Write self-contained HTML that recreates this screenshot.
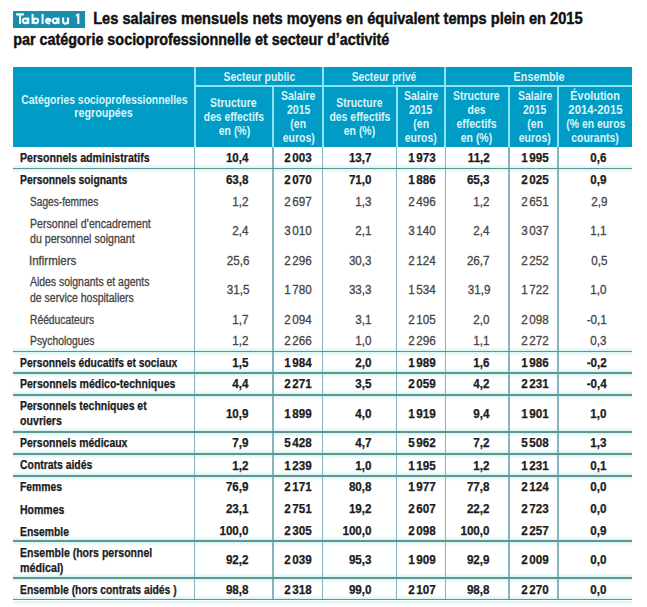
<!DOCTYPE html>
<html><head><meta charset="utf-8"><style>
html,body{margin:0;padding:0;}
body{width:647px;height:607px;position:relative;overflow:hidden;background:#fff;font-family:"Liberation Sans",sans-serif;}
.t{position:absolute;white-space:nowrap;line-height:20px;height:20px;}
.r{position:absolute;}
</style></head><body>
<div class="r" style="left:13px;top:11px;width:72px;height:17px;background:#1a8cac;"></div>
<svg style="position:absolute;left:0;top:0" width="100" height="40" viewBox="0 0 100 40"><g fill="none" stroke="#effcff" stroke-width="2.1" stroke-linecap="butt">
<path d="M16.2 14.4H23.8M20.1 14.4V24.0"/>
<circle cx="25.3" cy="20.8" r="2.3"/><path d="M28.2 17.5V24.0"/>
<path d="M32.6 13.9V24.0"/><circle cx="35.8" cy="20.8" r="2.3"/>
<path d="M42.6 13.9V24.0"/>
<path d="M45.9 20.8H50.6A2.3 2.3 0 1 0 49.9 22.7"/>
<circle cx="55.2" cy="20.8" r="2.3"/><path d="M58.5 17.5V24.0"/>
<path d="M63.1 17.5V21.2A2.4 2.4 0 0 0 67.9 21.2M68.0 17.5V24.0"/>
<path d="M78.3 13.5V24.0M78.6 14.0L76.2 16.0"/>
</g></svg>
<div class="t" style="left:93.00px;top:9.28px;font-size:16.8px;font-weight:700;color:#111;transform-origin:1.00px 50%;transform:scaleX(0.8717);-webkit-text-stroke:0.45px #111;">Les salaires mensuels nets moyens en équivalent temps plein en 2015</div>
<div class="t" style="left:13.00px;top:30.18px;font-size:16.8px;font-weight:700;color:#111;transform-origin:1.00px 50%;transform:scaleX(0.8562);-webkit-text-stroke:0.45px #111;">par catégorie socioprofessionnelle et secteur d’activité</div>
<div class="r" style="left:13px;top:66.5px;width:619.4px;height:80.5px;background:#009cc5;"></div>
<div class="r" style="left:193.6px;top:66.5px;width:2px;height:80.5px;background:#8ae4f5;"></div>
<div class="r" style="left:321.5px;top:66.5px;width:2px;height:80.5px;background:#8ae4f5;"></div>
<div class="r" style="left:444.4px;top:66.5px;width:2px;height:80.5px;background:#8ae4f5;"></div>
<div class="r" style="left:272.1px;top:85px;width:2px;height:62px;background:#8ae4f5;"></div>
<div class="r" style="left:395.5px;top:85px;width:2px;height:62px;background:#8ae4f5;"></div>
<div class="r" style="left:507.8px;top:85px;width:2px;height:62px;background:#8ae4f5;"></div>
<div class="r" style="left:557.4px;top:85px;width:2px;height:62px;background:#8ae4f5;"></div>
<div class="r" style="left:194.6px;top:84.6px;width:437.79999999999995px;height:2px;background:#8ae4f5;"></div>
<div class="t" style="left:5.95px;top:89.54px;font-size:12.3px;font-weight:700;color:#daf4fa;transform-origin:98.50px 50%;transform:scaleX(0.8452);-webkit-text-stroke:0.0px #daf4fa;">Catégories socioprofessionnelles</div>
<div class="t" style="left:70.00px;top:103.04px;font-size:12.3px;font-weight:700;color:#daf4fa;transform-origin:34.00px 50%;transform:scaleX(0.8727);-webkit-text-stroke:0.0px #daf4fa;">regroupées</div>
<div class="t" style="left:216.50px;top:66.74px;font-size:12.3px;font-weight:700;color:#daf4fa;transform-origin:42.50px 50%;transform:scaleX(0.8447);-webkit-text-stroke:0.0px #daf4fa;">Secteur public</div>
<div class="t" style="left:345.00px;top:66.74px;font-size:12.3px;font-weight:700;color:#daf4fa;transform-origin:39.00px 50%;transform:scaleX(0.8282);-webkit-text-stroke:0.0px #daf4fa;">Secteur privé</div>
<div class="t" style="left:509.75px;top:66.54px;font-size:12.3px;font-weight:700;color:#daf4fa;transform-origin:29.50px 50%;transform:scaleX(0.8789);-webkit-text-stroke:0.0px #daf4fa;">Ensemble</div>
<div class="t" style="left:205.95px;top:93.34px;font-size:12.3px;font-weight:700;color:#daf4fa;transform-origin:27.50px 50%;transform:scaleX(0.8527);-webkit-text-stroke:0.0px #daf4fa;">Structure</div>
<div class="t" style="left:198.15px;top:106.94px;font-size:12.3px;font-weight:700;color:#daf4fa;transform-origin:36.00px 50%;transform:scaleX(0.8375);-webkit-text-stroke:0.0px #daf4fa;">des effectifs</div>
<div class="t" style="left:215.50px;top:120.54px;font-size:12.3px;font-weight:700;color:#daf4fa;transform-origin:18.50px 50%;transform:scaleX(0.8500);-webkit-text-stroke:0.0px #daf4fa;">en (%)</div>
<div class="t" style="left:278.00px;top:86.13px;font-size:12.3px;font-weight:700;color:#daf4fa;transform-origin:20.00px 50%;transform:scaleX(0.8500);-webkit-text-stroke:0.0px #daf4fa;">Salaire</div>
<div class="t" style="left:284.50px;top:100.00px;font-size:12.3px;font-weight:700;color:#daf4fa;transform-origin:13.50px 50%;transform:scaleX(0.8500);-webkit-text-stroke:0.0px #daf4fa;">2015</div>
<div class="t" style="left:289.00px;top:113.87px;font-size:12.3px;font-weight:700;color:#daf4fa;transform-origin:9.00px 50%;transform:scaleX(0.8500);-webkit-text-stroke:0.0px #daf4fa;">(en</div>
<div class="t" style="left:279.50px;top:127.74px;font-size:12.3px;font-weight:700;color:#daf4fa;transform-origin:18.50px 50%;transform:scaleX(0.8500);-webkit-text-stroke:0.0px #daf4fa;">euros)</div>
<div class="t" style="left:332.15px;top:93.34px;font-size:12.3px;font-weight:700;color:#daf4fa;transform-origin:27.50px 50%;transform:scaleX(0.8455);-webkit-text-stroke:0.0px #daf4fa;">Structure</div>
<div class="t" style="left:323.70px;top:106.94px;font-size:12.3px;font-weight:700;color:#daf4fa;transform-origin:36.00px 50%;transform:scaleX(0.8500);-webkit-text-stroke:0.0px #daf4fa;">des effectifs</div>
<div class="t" style="left:341.20px;top:120.54px;font-size:12.3px;font-weight:700;color:#daf4fa;transform-origin:18.50px 50%;transform:scaleX(0.8500);-webkit-text-stroke:0.0px #daf4fa;">en (%)</div>
<div class="t" style="left:400.90px;top:86.13px;font-size:12.3px;font-weight:700;color:#daf4fa;transform-origin:20.00px 50%;transform:scaleX(0.8500);-webkit-text-stroke:0.0px #daf4fa;">Salaire</div>
<div class="t" style="left:407.40px;top:100.00px;font-size:12.3px;font-weight:700;color:#daf4fa;transform-origin:13.50px 50%;transform:scaleX(0.8500);-webkit-text-stroke:0.0px #daf4fa;">2015</div>
<div class="t" style="left:411.90px;top:113.87px;font-size:12.3px;font-weight:700;color:#daf4fa;transform-origin:9.00px 50%;transform:scaleX(0.8500);-webkit-text-stroke:0.0px #daf4fa;">(en</div>
<div class="t" style="left:402.40px;top:127.74px;font-size:12.3px;font-weight:700;color:#daf4fa;transform-origin:18.50px 50%;transform:scaleX(0.8500);-webkit-text-stroke:0.0px #daf4fa;">euros)</div>
<div class="t" style="left:449.30px;top:86.13px;font-size:12.3px;font-weight:700;color:#daf4fa;transform-origin:27.50px 50%;transform:scaleX(0.8545);-webkit-text-stroke:0.0px #daf4fa;">Structure</div>
<div class="t" style="left:466.30px;top:100.00px;font-size:12.3px;font-weight:700;color:#daf4fa;transform-origin:10.50px 50%;transform:scaleX(0.8500);-webkit-text-stroke:0.0px #daf4fa;">des</div>
<div class="t" style="left:453.30px;top:113.87px;font-size:12.3px;font-weight:700;color:#daf4fa;transform-origin:23.50px 50%;transform:scaleX(0.8500);-webkit-text-stroke:0.0px #daf4fa;">effectifs</div>
<div class="t" style="left:458.30px;top:127.74px;font-size:12.3px;font-weight:700;color:#daf4fa;transform-origin:18.50px 50%;transform:scaleX(0.8500);-webkit-text-stroke:0.0px #daf4fa;">en (%)</div>
<div class="t" style="left:514.50px;top:86.13px;font-size:12.3px;font-weight:700;color:#daf4fa;transform-origin:20.00px 50%;transform:scaleX(0.8500);-webkit-text-stroke:0.0px #daf4fa;">Salaire</div>
<div class="t" style="left:521.00px;top:100.00px;font-size:12.3px;font-weight:700;color:#daf4fa;transform-origin:13.50px 50%;transform:scaleX(0.8500);-webkit-text-stroke:0.0px #daf4fa;">2015</div>
<div class="t" style="left:525.50px;top:113.87px;font-size:12.3px;font-weight:700;color:#daf4fa;transform-origin:9.00px 50%;transform:scaleX(0.8500);-webkit-text-stroke:0.0px #daf4fa;">(en</div>
<div class="t" style="left:516.00px;top:127.74px;font-size:12.3px;font-weight:700;color:#daf4fa;transform-origin:18.50px 50%;transform:scaleX(0.8500);-webkit-text-stroke:0.0px #daf4fa;">euros)</div>
<div class="t" style="left:566.55px;top:86.13px;font-size:12.3px;font-weight:700;color:#daf4fa;transform-origin:28.50px 50%;transform:scaleX(0.8818);-webkit-text-stroke:0.0px #daf4fa;">Évolution</div>
<div class="t" style="left:565.55px;top:100.00px;font-size:12.3px;font-weight:700;color:#daf4fa;transform-origin:29.50px 50%;transform:scaleX(0.9203);-webkit-text-stroke:0.0px #daf4fa;">2014-2015</div>
<div class="t" style="left:560.55px;top:113.87px;font-size:12.3px;font-weight:700;color:#daf4fa;transform-origin:34.50px 50%;transform:scaleX(0.8478);-webkit-text-stroke:0.0px #daf4fa;">(% en euros</div>
<div class="t" style="left:567.00px;top:127.74px;font-size:12.3px;font-weight:700;color:#daf4fa;transform-origin:28.00px 50%;transform:scaleX(0.8500);-webkit-text-stroke:0.0px #daf4fa;">courants)</div>
<div class="r" style="left:13px;top:163.6px;width:619.4px;height:4px;background:linear-gradient(to bottom, rgba(220,246,246,0), rgba(215,244,244,1));"></div>
<div class="r" style="left:13px;top:169.4px;width:619.4px;height:4px;background:linear-gradient(to top, rgba(220,246,246,0), rgba(215,244,244,1));"></div>
<div class="r" style="left:13px;top:346.6px;width:619.4px;height:4px;background:linear-gradient(to bottom, rgba(220,246,246,0), rgba(215,244,244,1));"></div>
<div class="r" style="left:13px;top:352.4px;width:619.4px;height:4px;background:linear-gradient(to top, rgba(220,246,246,0), rgba(215,244,244,1));"></div>
<div class="r" style="left:13px;top:368.40000000000003px;width:619.4px;height:4px;background:linear-gradient(to bottom, rgba(220,246,246,0), rgba(215,244,244,1));"></div>
<div class="r" style="left:13px;top:374.2px;width:619.4px;height:4px;background:linear-gradient(to top, rgba(220,246,246,0), rgba(215,244,244,1));"></div>
<div class="r" style="left:13px;top:390.40000000000003px;width:619.4px;height:4px;background:linear-gradient(to bottom, rgba(220,246,246,0), rgba(215,244,244,1));"></div>
<div class="r" style="left:13px;top:396.2px;width:619.4px;height:4px;background:linear-gradient(to top, rgba(220,246,246,0), rgba(215,244,244,1));"></div>
<div class="r" style="left:13px;top:426.90000000000003px;width:619.4px;height:4px;background:linear-gradient(to bottom, rgba(220,246,246,0), rgba(215,244,244,1));"></div>
<div class="r" style="left:13px;top:432.7px;width:619.4px;height:4px;background:linear-gradient(to top, rgba(220,246,246,0), rgba(215,244,244,1));"></div>
<div class="r" style="left:13px;top:448.90000000000003px;width:619.4px;height:4px;background:linear-gradient(to bottom, rgba(220,246,246,0), rgba(215,244,244,1));"></div>
<div class="r" style="left:13px;top:454.7px;width:619.4px;height:4px;background:linear-gradient(to top, rgba(220,246,246,0), rgba(215,244,244,1));"></div>
<div class="r" style="left:13px;top:471.1px;width:619.4px;height:4px;background:linear-gradient(to bottom, rgba(220,246,246,0), rgba(215,244,244,1));"></div>
<div class="r" style="left:13px;top:476.9px;width:619.4px;height:4px;background:linear-gradient(to top, rgba(220,246,246,0), rgba(215,244,244,1));"></div>
<div class="r" style="left:13px;top:535.8000000000001px;width:619.4px;height:4px;background:linear-gradient(to bottom, rgba(220,246,246,0), rgba(215,244,244,1));"></div>
<div class="r" style="left:13px;top:541.6px;width:619.4px;height:4px;background:linear-gradient(to top, rgba(220,246,246,0), rgba(215,244,244,1));"></div>
<div class="r" style="left:13px;top:573.3000000000001px;width:619.4px;height:4px;background:linear-gradient(to bottom, rgba(220,246,246,0), rgba(215,244,244,1));"></div>
<div class="r" style="left:13px;top:579.1px;width:619.4px;height:4px;background:linear-gradient(to top, rgba(220,246,246,0), rgba(215,244,244,1));"></div>
<div class="r" style="left:13px;top:594.7px;width:619.4px;height:4px;background:linear-gradient(to bottom, rgba(220,246,246,0), rgba(215,244,244,1));"></div>
<div class="r" style="left:13px;top:600.5px;width:619.4px;height:4px;background:linear-gradient(to top, rgba(220,246,246,0), rgba(215,244,244,1));"></div>
<div class="r" style="left:193.7px;top:147px;width:1.8px;height:453.20000000000005px;background:#86b4bc;"></div>
<div class="r" style="left:272.20000000000005px;top:147px;width:1.8px;height:453.20000000000005px;background:#86b4bc;"></div>
<div class="r" style="left:321.6px;top:147px;width:1.8px;height:453.20000000000005px;background:#86b4bc;"></div>
<div class="r" style="left:395.6px;top:147px;width:1.8px;height:453.20000000000005px;background:#86b4bc;"></div>
<div class="r" style="left:444.70000000000005px;top:147px;width:1.8px;height:453.20000000000005px;background:#86b4bc;"></div>
<div class="r" style="left:507.90000000000003px;top:147px;width:1.8px;height:453.20000000000005px;background:#86b4bc;"></div>
<div class="r" style="left:557.3000000000001px;top:147px;width:1.8px;height:453.20000000000005px;background:#86b4bc;"></div>
<div class="r" style="left:13px;top:167.6px;width:619.4px;height:1.8px;background:#629490;"></div>
<div class="r" style="left:13px;top:350.6px;width:619.4px;height:1.8px;background:#629490;"></div>
<div class="r" style="left:13px;top:372.40000000000003px;width:619.4px;height:1.8px;background:#629490;"></div>
<div class="r" style="left:13px;top:394.40000000000003px;width:619.4px;height:1.8px;background:#629490;"></div>
<div class="r" style="left:13px;top:430.90000000000003px;width:619.4px;height:1.8px;background:#629490;"></div>
<div class="r" style="left:13px;top:452.90000000000003px;width:619.4px;height:1.8px;background:#629490;"></div>
<div class="r" style="left:13px;top:475.1px;width:619.4px;height:1.8px;background:#629490;"></div>
<div class="r" style="left:13px;top:539.8000000000001px;width:619.4px;height:1.8px;background:#629490;"></div>
<div class="r" style="left:13px;top:577.3000000000001px;width:619.4px;height:1.8px;background:#629490;"></div>
<div class="r" style="left:13px;top:598.7px;width:619.4px;height:1.8px;background:#629490;"></div>
<div class="t" style="left:20.20px;top:148.04px;font-size:12px;font-weight:700;color:#1c1c1c;transform-origin:0.00px 50%;transform:scaleX(0.8844);-webkit-text-stroke:0.25px #1c1c1c;">Personnels administratifs</div>
<div class="t" style="left:223.50px;top:147.93px;font-size:12.6px;font-weight:700;color:#1c1c1c;transform-origin:25.00px 50%;transform:scaleX(0.9250);-webkit-text-stroke:0.25px #1c1c1c;">10,4</div>
<div class="t" style="left:283.00px;top:147.93px;font-size:12.6px;font-weight:700;color:#1c1c1c;transform-origin:15.00px 50%;transform:scaleX(0.9250);-webkit-text-stroke:0.25px #1c1c1c;">2<i style="display:inline-block;width:1.7px"></i>003</div>
<div class="t" style="left:347.20px;top:147.93px;font-size:12.6px;font-weight:700;color:#1c1c1c;transform-origin:25.00px 50%;transform:scaleX(0.9250);-webkit-text-stroke:0.25px #1c1c1c;">13,7</div>
<div class="t" style="left:406.50px;top:147.93px;font-size:12.6px;font-weight:700;color:#1c1c1c;transform-origin:15.00px 50%;transform:scaleX(0.9250);-webkit-text-stroke:0.25px #1c1c1c;">1<i style="display:inline-block;width:1.7px"></i>973</div>
<div class="t" style="left:465.50px;top:147.93px;font-size:12.6px;font-weight:700;color:#1c1c1c;transform-origin:24.00px 50%;transform:scaleX(0.9250);-webkit-text-stroke:0.25px #1c1c1c;">11,2</div>
<div class="t" style="left:519.80px;top:147.93px;font-size:12.6px;font-weight:700;color:#1c1c1c;transform-origin:15.00px 50%;transform:scaleX(0.9250);-webkit-text-stroke:0.25px #1c1c1c;">1<i style="display:inline-block;width:1.7px"></i>995</div>
<div class="t" style="left:589.00px;top:147.93px;font-size:12.6px;font-weight:700;color:#1c1c1c;transform-origin:18.00px 50%;transform:scaleX(0.9250);-webkit-text-stroke:0.25px #1c1c1c;">0,6</div>
<div class="t" style="left:20.20px;top:170.34px;font-size:12px;font-weight:700;color:#1c1c1c;transform-origin:0.00px 50%;transform:scaleX(0.8608);-webkit-text-stroke:0.25px #1c1c1c;">Personnels soignants</div>
<div class="t" style="left:223.50px;top:170.23px;font-size:12.6px;font-weight:700;color:#1c1c1c;transform-origin:25.00px 50%;transform:scaleX(0.9250);-webkit-text-stroke:0.25px #1c1c1c;">63,8</div>
<div class="t" style="left:283.00px;top:170.23px;font-size:12.6px;font-weight:700;color:#1c1c1c;transform-origin:15.00px 50%;transform:scaleX(0.9250);-webkit-text-stroke:0.25px #1c1c1c;">2<i style="display:inline-block;width:1.7px"></i>070</div>
<div class="t" style="left:347.20px;top:170.23px;font-size:12.6px;font-weight:700;color:#1c1c1c;transform-origin:25.00px 50%;transform:scaleX(0.9250);-webkit-text-stroke:0.25px #1c1c1c;">71,0</div>
<div class="t" style="left:406.50px;top:170.23px;font-size:12.6px;font-weight:700;color:#1c1c1c;transform-origin:15.00px 50%;transform:scaleX(0.9250);-webkit-text-stroke:0.25px #1c1c1c;">1<i style="display:inline-block;width:1.7px"></i>886</div>
<div class="t" style="left:464.50px;top:170.23px;font-size:12.6px;font-weight:700;color:#1c1c1c;transform-origin:25.00px 50%;transform:scaleX(0.9250);-webkit-text-stroke:0.25px #1c1c1c;">65,3</div>
<div class="t" style="left:519.80px;top:170.23px;font-size:12.6px;font-weight:700;color:#1c1c1c;transform-origin:15.00px 50%;transform:scaleX(0.9250);-webkit-text-stroke:0.25px #1c1c1c;">2<i style="display:inline-block;width:1.7px"></i>025</div>
<div class="t" style="left:589.00px;top:170.23px;font-size:12.6px;font-weight:700;color:#1c1c1c;transform-origin:18.00px 50%;transform:scaleX(0.9250);-webkit-text-stroke:0.25px #1c1c1c;">0,9</div>
<div class="t" style="left:30.00px;top:191.74px;font-size:12px;font-weight:400;color:#454545;transform-origin:0.00px 50%;transform:scaleX(0.8457);-webkit-text-stroke:0.3px #454545;">Sages-femmes</div>
<div class="t" style="left:230.50px;top:191.63px;font-size:12.6px;font-weight:400;color:#454545;transform-origin:18.00px 50%;transform:scaleX(0.9250);-webkit-text-stroke:0.3px #454545;">1,2</div>
<div class="t" style="left:283.00px;top:191.63px;font-size:12.6px;font-weight:400;color:#454545;transform-origin:15.00px 50%;transform:scaleX(0.9250);-webkit-text-stroke:0.3px #454545;">2<i style="display:inline-block;width:1.7px"></i>697</div>
<div class="t" style="left:354.20px;top:191.63px;font-size:12.6px;font-weight:400;color:#454545;transform-origin:18.00px 50%;transform:scaleX(0.9250);-webkit-text-stroke:0.3px #454545;">1,3</div>
<div class="t" style="left:406.50px;top:191.63px;font-size:12.6px;font-weight:400;color:#454545;transform-origin:15.00px 50%;transform:scaleX(0.9250);-webkit-text-stroke:0.3px #454545;">2<i style="display:inline-block;width:1.7px"></i>496</div>
<div class="t" style="left:471.50px;top:191.63px;font-size:12.6px;font-weight:400;color:#454545;transform-origin:18.00px 50%;transform:scaleX(0.9250);-webkit-text-stroke:0.3px #454545;">1,2</div>
<div class="t" style="left:519.80px;top:191.63px;font-size:12.6px;font-weight:400;color:#454545;transform-origin:15.00px 50%;transform:scaleX(0.9250);-webkit-text-stroke:0.3px #454545;">2<i style="display:inline-block;width:1.7px"></i>651</div>
<div class="t" style="left:590.00px;top:191.63px;font-size:12.6px;font-weight:400;color:#454545;transform-origin:17.00px 50%;transform:scaleX(0.9250);-webkit-text-stroke:0.3px #454545;">2,9</div>
<div class="t" style="left:30.00px;top:213.84px;font-size:12px;font-weight:400;color:#454545;transform-origin:0.00px 50%;transform:scaleX(0.8832);-webkit-text-stroke:0.3px #454545;">Personnel d’encadrement</div>
<div class="t" style="left:30.00px;top:229.04px;font-size:12px;font-weight:400;color:#454545;transform-origin:0.00px 50%;transform:scaleX(0.8857);-webkit-text-stroke:0.3px #454545;">du personnel soignant</div>
<div class="t" style="left:230.50px;top:221.43px;font-size:12.6px;font-weight:400;color:#454545;transform-origin:18.00px 50%;transform:scaleX(0.9250);-webkit-text-stroke:0.3px #454545;">2,4</div>
<div class="t" style="left:283.00px;top:221.43px;font-size:12.6px;font-weight:400;color:#454545;transform-origin:15.00px 50%;transform:scaleX(0.9250);-webkit-text-stroke:0.3px #454545;">3<i style="display:inline-block;width:1.7px"></i>010</div>
<div class="t" style="left:354.20px;top:221.43px;font-size:12.6px;font-weight:400;color:#454545;transform-origin:18.00px 50%;transform:scaleX(0.9250);-webkit-text-stroke:0.3px #454545;">2,1</div>
<div class="t" style="left:406.50px;top:221.43px;font-size:12.6px;font-weight:400;color:#454545;transform-origin:15.00px 50%;transform:scaleX(0.9250);-webkit-text-stroke:0.3px #454545;">3<i style="display:inline-block;width:1.7px"></i>140</div>
<div class="t" style="left:471.50px;top:221.43px;font-size:12.6px;font-weight:400;color:#454545;transform-origin:18.00px 50%;transform:scaleX(0.9250);-webkit-text-stroke:0.3px #454545;">2,4</div>
<div class="t" style="left:519.80px;top:221.43px;font-size:12.6px;font-weight:400;color:#454545;transform-origin:15.00px 50%;transform:scaleX(0.9250);-webkit-text-stroke:0.3px #454545;">3<i style="display:inline-block;width:1.7px"></i>037</div>
<div class="t" style="left:589.00px;top:221.43px;font-size:12.6px;font-weight:400;color:#454545;transform-origin:18.00px 50%;transform:scaleX(0.9250);-webkit-text-stroke:0.3px #454545;">1,1</div>
<div class="t" style="left:29.00px;top:251.24px;font-size:12px;font-weight:400;color:#454545;transform-origin:1.00px 50%;transform:scaleX(0.9563);-webkit-text-stroke:0.3px #454545;">Infirmiers</div>
<div class="t" style="left:224.50px;top:251.33px;font-size:12.6px;font-weight:400;color:#454545;transform-origin:24.00px 50%;transform:scaleX(0.9250);-webkit-text-stroke:0.3px #454545;">25,6</div>
<div class="t" style="left:283.00px;top:251.33px;font-size:12.6px;font-weight:400;color:#454545;transform-origin:15.00px 50%;transform:scaleX(0.9250);-webkit-text-stroke:0.3px #454545;">2<i style="display:inline-block;width:1.7px"></i>296</div>
<div class="t" style="left:347.20px;top:251.33px;font-size:12.6px;font-weight:400;color:#454545;transform-origin:25.00px 50%;transform:scaleX(0.9250);-webkit-text-stroke:0.3px #454545;">30,3</div>
<div class="t" style="left:406.50px;top:251.33px;font-size:12.6px;font-weight:400;color:#454545;transform-origin:15.00px 50%;transform:scaleX(0.9250);-webkit-text-stroke:0.3px #454545;">2<i style="display:inline-block;width:1.7px"></i>124</div>
<div class="t" style="left:464.50px;top:251.33px;font-size:12.6px;font-weight:400;color:#454545;transform-origin:25.00px 50%;transform:scaleX(0.9250);-webkit-text-stroke:0.3px #454545;">26,7</div>
<div class="t" style="left:519.80px;top:251.33px;font-size:12.6px;font-weight:400;color:#454545;transform-origin:15.00px 50%;transform:scaleX(0.9250);-webkit-text-stroke:0.3px #454545;">2<i style="display:inline-block;width:1.7px"></i>252</div>
<div class="t" style="left:590.00px;top:251.33px;font-size:12.6px;font-weight:400;color:#454545;transform-origin:17.00px 50%;transform:scaleX(0.9250);-webkit-text-stroke:0.3px #454545;">0,5</div>
<div class="t" style="left:30.00px;top:271.84px;font-size:12px;font-weight:400;color:#454545;transform-origin:0.00px 50%;transform:scaleX(0.8688);-webkit-text-stroke:0.3px #454545;">Aides soignants et agents</div>
<div class="t" style="left:30.00px;top:287.54px;font-size:12px;font-weight:400;color:#454545;transform-origin:0.00px 50%;transform:scaleX(0.8748);-webkit-text-stroke:0.3px #454545;">de service hospitaliers</div>
<div class="t" style="left:224.50px;top:279.83px;font-size:12.6px;font-weight:400;color:#454545;transform-origin:24.00px 50%;transform:scaleX(0.9250);-webkit-text-stroke:0.3px #454545;">31,5</div>
<div class="t" style="left:283.00px;top:279.83px;font-size:12.6px;font-weight:400;color:#454545;transform-origin:15.00px 50%;transform:scaleX(0.9250);-webkit-text-stroke:0.3px #454545;">1<i style="display:inline-block;width:1.7px"></i>780</div>
<div class="t" style="left:347.20px;top:279.83px;font-size:12.6px;font-weight:400;color:#454545;transform-origin:25.00px 50%;transform:scaleX(0.9250);-webkit-text-stroke:0.3px #454545;">33,3</div>
<div class="t" style="left:406.50px;top:279.83px;font-size:12.6px;font-weight:400;color:#454545;transform-origin:15.00px 50%;transform:scaleX(0.9250);-webkit-text-stroke:0.3px #454545;">1<i style="display:inline-block;width:1.7px"></i>534</div>
<div class="t" style="left:465.50px;top:279.83px;font-size:12.6px;font-weight:400;color:#454545;transform-origin:24.00px 50%;transform:scaleX(0.9250);-webkit-text-stroke:0.3px #454545;">31,9</div>
<div class="t" style="left:519.80px;top:279.83px;font-size:12.6px;font-weight:400;color:#454545;transform-origin:15.00px 50%;transform:scaleX(0.9250);-webkit-text-stroke:0.3px #454545;">1<i style="display:inline-block;width:1.7px"></i>722</div>
<div class="t" style="left:589.00px;top:279.83px;font-size:12.6px;font-weight:400;color:#454545;transform-origin:18.00px 50%;transform:scaleX(0.9250);-webkit-text-stroke:0.3px #454545;">1,0</div>
<div class="t" style="left:30.00px;top:309.74px;font-size:12px;font-weight:400;color:#454545;transform-origin:0.00px 50%;transform:scaleX(0.8573);-webkit-text-stroke:0.3px #454545;">Rééducateurs</div>
<div class="t" style="left:230.50px;top:309.93px;font-size:12.6px;font-weight:400;color:#454545;transform-origin:18.00px 50%;transform:scaleX(0.9250);-webkit-text-stroke:0.3px #454545;">1,7</div>
<div class="t" style="left:283.00px;top:309.93px;font-size:12.6px;font-weight:400;color:#454545;transform-origin:15.00px 50%;transform:scaleX(0.9250);-webkit-text-stroke:0.3px #454545;">2<i style="display:inline-block;width:1.7px"></i>094</div>
<div class="t" style="left:354.20px;top:309.93px;font-size:12.6px;font-weight:400;color:#454545;transform-origin:18.00px 50%;transform:scaleX(0.9250);-webkit-text-stroke:0.3px #454545;">3,1</div>
<div class="t" style="left:406.50px;top:309.93px;font-size:12.6px;font-weight:400;color:#454545;transform-origin:15.00px 50%;transform:scaleX(0.9250);-webkit-text-stroke:0.3px #454545;">2<i style="display:inline-block;width:1.7px"></i>105</div>
<div class="t" style="left:471.50px;top:309.93px;font-size:12.6px;font-weight:400;color:#454545;transform-origin:18.00px 50%;transform:scaleX(0.9250);-webkit-text-stroke:0.3px #454545;">2,0</div>
<div class="t" style="left:519.80px;top:309.93px;font-size:12.6px;font-weight:400;color:#454545;transform-origin:15.00px 50%;transform:scaleX(0.9250);-webkit-text-stroke:0.3px #454545;">2<i style="display:inline-block;width:1.7px"></i>098</div>
<div class="t" style="left:585.00px;top:309.93px;font-size:12.6px;font-weight:400;color:#454545;transform-origin:22.00px 50%;transform:scaleX(0.9250);-webkit-text-stroke:0.3px #454545;">-0,1</div>
<div class="t" style="left:30.00px;top:330.54px;font-size:12px;font-weight:400;color:#454545;transform-origin:0.00px 50%;transform:scaleX(0.8613);-webkit-text-stroke:0.3px #454545;">Psychologues</div>
<div class="t" style="left:230.50px;top:330.73px;font-size:12.6px;font-weight:400;color:#454545;transform-origin:18.00px 50%;transform:scaleX(0.9250);-webkit-text-stroke:0.3px #454545;">1,2</div>
<div class="t" style="left:283.00px;top:330.73px;font-size:12.6px;font-weight:400;color:#454545;transform-origin:15.00px 50%;transform:scaleX(0.9250);-webkit-text-stroke:0.3px #454545;">2<i style="display:inline-block;width:1.7px"></i>266</div>
<div class="t" style="left:354.20px;top:330.73px;font-size:12.6px;font-weight:400;color:#454545;transform-origin:18.00px 50%;transform:scaleX(0.9250);-webkit-text-stroke:0.3px #454545;">1,0</div>
<div class="t" style="left:406.50px;top:330.73px;font-size:12.6px;font-weight:400;color:#454545;transform-origin:15.00px 50%;transform:scaleX(0.9250);-webkit-text-stroke:0.3px #454545;">2<i style="display:inline-block;width:1.7px"></i>296</div>
<div class="t" style="left:471.50px;top:330.73px;font-size:12.6px;font-weight:400;color:#454545;transform-origin:18.00px 50%;transform:scaleX(0.9250);-webkit-text-stroke:0.3px #454545;">1,1</div>
<div class="t" style="left:519.80px;top:330.73px;font-size:12.6px;font-weight:400;color:#454545;transform-origin:15.00px 50%;transform:scaleX(0.9250);-webkit-text-stroke:0.3px #454545;">2<i style="display:inline-block;width:1.7px"></i>272</div>
<div class="t" style="left:589.00px;top:330.73px;font-size:12.6px;font-weight:400;color:#454545;transform-origin:18.00px 50%;transform:scaleX(0.9250);-webkit-text-stroke:0.3px #454545;">0,3</div>
<div class="t" style="left:20.20px;top:352.84px;font-size:12px;font-weight:700;color:#1c1c1c;transform-origin:0.00px 50%;transform:scaleX(0.8607);-webkit-text-stroke:0.25px #1c1c1c;">Personnels éducatifs et sociaux</div>
<div class="t" style="left:230.50px;top:352.83px;font-size:12.6px;font-weight:700;color:#1c1c1c;transform-origin:18.00px 50%;transform:scaleX(0.9250);-webkit-text-stroke:0.25px #1c1c1c;">1,5</div>
<div class="t" style="left:283.00px;top:352.83px;font-size:12.6px;font-weight:700;color:#1c1c1c;transform-origin:15.00px 50%;transform:scaleX(0.9250);-webkit-text-stroke:0.25px #1c1c1c;">1<i style="display:inline-block;width:1.7px"></i>984</div>
<div class="t" style="left:354.20px;top:352.83px;font-size:12.6px;font-weight:700;color:#1c1c1c;transform-origin:18.00px 50%;transform:scaleX(0.9250);-webkit-text-stroke:0.25px #1c1c1c;">2,0</div>
<div class="t" style="left:406.50px;top:352.83px;font-size:12.6px;font-weight:700;color:#1c1c1c;transform-origin:15.00px 50%;transform:scaleX(0.9250);-webkit-text-stroke:0.25px #1c1c1c;">1<i style="display:inline-block;width:1.7px"></i>989</div>
<div class="t" style="left:471.50px;top:352.83px;font-size:12.6px;font-weight:700;color:#1c1c1c;transform-origin:18.00px 50%;transform:scaleX(0.9250);-webkit-text-stroke:0.25px #1c1c1c;">1,6</div>
<div class="t" style="left:519.80px;top:352.83px;font-size:12.6px;font-weight:700;color:#1c1c1c;transform-origin:15.00px 50%;transform:scaleX(0.9250);-webkit-text-stroke:0.25px #1c1c1c;">1<i style="display:inline-block;width:1.7px"></i>986</div>
<div class="t" style="left:585.00px;top:352.83px;font-size:12.6px;font-weight:700;color:#1c1c1c;transform-origin:22.00px 50%;transform:scaleX(0.9250);-webkit-text-stroke:0.25px #1c1c1c;">-0,2</div>
<div class="t" style="left:20.20px;top:374.24px;font-size:12px;font-weight:700;color:#1c1c1c;transform-origin:0.00px 50%;transform:scaleX(0.8757);-webkit-text-stroke:0.25px #1c1c1c;">Personnels médico-techniques</div>
<div class="t" style="left:230.50px;top:374.43px;font-size:12.6px;font-weight:700;color:#1c1c1c;transform-origin:18.00px 50%;transform:scaleX(0.9250);-webkit-text-stroke:0.25px #1c1c1c;">4,4</div>
<div class="t" style="left:283.00px;top:374.43px;font-size:12.6px;font-weight:700;color:#1c1c1c;transform-origin:15.00px 50%;transform:scaleX(0.9250);-webkit-text-stroke:0.25px #1c1c1c;">2<i style="display:inline-block;width:1.7px"></i>271</div>
<div class="t" style="left:354.20px;top:374.43px;font-size:12.6px;font-weight:700;color:#1c1c1c;transform-origin:18.00px 50%;transform:scaleX(0.9250);-webkit-text-stroke:0.25px #1c1c1c;">3,5</div>
<div class="t" style="left:406.50px;top:374.43px;font-size:12.6px;font-weight:700;color:#1c1c1c;transform-origin:15.00px 50%;transform:scaleX(0.9250);-webkit-text-stroke:0.25px #1c1c1c;">2<i style="display:inline-block;width:1.7px"></i>059</div>
<div class="t" style="left:471.50px;top:374.43px;font-size:12.6px;font-weight:700;color:#1c1c1c;transform-origin:18.00px 50%;transform:scaleX(0.9250);-webkit-text-stroke:0.25px #1c1c1c;">4,2</div>
<div class="t" style="left:519.80px;top:374.43px;font-size:12.6px;font-weight:700;color:#1c1c1c;transform-origin:15.00px 50%;transform:scaleX(0.9250);-webkit-text-stroke:0.25px #1c1c1c;">2<i style="display:inline-block;width:1.7px"></i>231</div>
<div class="t" style="left:585.00px;top:374.43px;font-size:12.6px;font-weight:700;color:#1c1c1c;transform-origin:22.00px 50%;transform:scaleX(0.9250);-webkit-text-stroke:0.25px #1c1c1c;">-0,4</div>
<div class="t" style="left:20.20px;top:395.64px;font-size:12px;font-weight:700;color:#1c1c1c;transform-origin:0.00px 50%;transform:scaleX(0.8712);-webkit-text-stroke:0.25px #1c1c1c;">Personnels techniques et</div>
<div class="t" style="left:20.20px;top:411.34px;font-size:12px;font-weight:700;color:#1c1c1c;transform-origin:0.00px 50%;transform:scaleX(0.8851);-webkit-text-stroke:0.25px #1c1c1c;">ouvriers</div>
<div class="t" style="left:223.50px;top:403.63px;font-size:12.6px;font-weight:700;color:#1c1c1c;transform-origin:25.00px 50%;transform:scaleX(0.9250);-webkit-text-stroke:0.25px #1c1c1c;">10,9</div>
<div class="t" style="left:283.00px;top:403.63px;font-size:12.6px;font-weight:700;color:#1c1c1c;transform-origin:15.00px 50%;transform:scaleX(0.9250);-webkit-text-stroke:0.25px #1c1c1c;">1<i style="display:inline-block;width:1.7px"></i>899</div>
<div class="t" style="left:354.20px;top:403.63px;font-size:12.6px;font-weight:700;color:#1c1c1c;transform-origin:18.00px 50%;transform:scaleX(0.9250);-webkit-text-stroke:0.25px #1c1c1c;">4,0</div>
<div class="t" style="left:406.50px;top:403.63px;font-size:12.6px;font-weight:700;color:#1c1c1c;transform-origin:15.00px 50%;transform:scaleX(0.9250);-webkit-text-stroke:0.25px #1c1c1c;">1<i style="display:inline-block;width:1.7px"></i>919</div>
<div class="t" style="left:471.50px;top:403.63px;font-size:12.6px;font-weight:700;color:#1c1c1c;transform-origin:18.00px 50%;transform:scaleX(0.9250);-webkit-text-stroke:0.25px #1c1c1c;">9,4</div>
<div class="t" style="left:519.80px;top:403.63px;font-size:12.6px;font-weight:700;color:#1c1c1c;transform-origin:15.00px 50%;transform:scaleX(0.9250);-webkit-text-stroke:0.25px #1c1c1c;">1<i style="display:inline-block;width:1.7px"></i>901</div>
<div class="t" style="left:589.00px;top:403.63px;font-size:12.6px;font-weight:700;color:#1c1c1c;transform-origin:18.00px 50%;transform:scaleX(0.9250);-webkit-text-stroke:0.25px #1c1c1c;">1,0</div>
<div class="t" style="left:20.20px;top:433.44px;font-size:12px;font-weight:700;color:#1c1c1c;transform-origin:0.00px 50%;transform:scaleX(0.8702);-webkit-text-stroke:0.25px #1c1c1c;">Personnels médicaux</div>
<div class="t" style="left:230.50px;top:433.23px;font-size:12.6px;font-weight:700;color:#1c1c1c;transform-origin:18.00px 50%;transform:scaleX(0.9250);-webkit-text-stroke:0.25px #1c1c1c;">7,9</div>
<div class="t" style="left:283.00px;top:433.23px;font-size:12.6px;font-weight:700;color:#1c1c1c;transform-origin:15.00px 50%;transform:scaleX(0.9250);-webkit-text-stroke:0.25px #1c1c1c;">5<i style="display:inline-block;width:1.7px"></i>428</div>
<div class="t" style="left:354.20px;top:433.23px;font-size:12.6px;font-weight:700;color:#1c1c1c;transform-origin:18.00px 50%;transform:scaleX(0.9250);-webkit-text-stroke:0.25px #1c1c1c;">4,7</div>
<div class="t" style="left:406.50px;top:433.23px;font-size:12.6px;font-weight:700;color:#1c1c1c;transform-origin:15.00px 50%;transform:scaleX(0.9250);-webkit-text-stroke:0.25px #1c1c1c;">5<i style="display:inline-block;width:1.7px"></i>962</div>
<div class="t" style="left:471.50px;top:433.23px;font-size:12.6px;font-weight:700;color:#1c1c1c;transform-origin:18.00px 50%;transform:scaleX(0.9250);-webkit-text-stroke:0.25px #1c1c1c;">7,2</div>
<div class="t" style="left:519.80px;top:433.23px;font-size:12.6px;font-weight:700;color:#1c1c1c;transform-origin:15.00px 50%;transform:scaleX(0.9250);-webkit-text-stroke:0.25px #1c1c1c;">5<i style="display:inline-block;width:1.7px"></i>508</div>
<div class="t" style="left:589.00px;top:433.23px;font-size:12.6px;font-weight:700;color:#1c1c1c;transform-origin:18.00px 50%;transform:scaleX(0.9250);-webkit-text-stroke:0.25px #1c1c1c;">1,3</div>
<div class="t" style="left:20.20px;top:455.44px;font-size:12px;font-weight:700;color:#1c1c1c;transform-origin:0.00px 50%;transform:scaleX(0.8675);-webkit-text-stroke:0.25px #1c1c1c;">Contrats aidés</div>
<div class="t" style="left:230.50px;top:456.03px;font-size:12.6px;font-weight:700;color:#1c1c1c;transform-origin:18.00px 50%;transform:scaleX(0.9250);-webkit-text-stroke:0.25px #1c1c1c;">1,2</div>
<div class="t" style="left:283.00px;top:456.03px;font-size:12.6px;font-weight:700;color:#1c1c1c;transform-origin:15.00px 50%;transform:scaleX(0.9250);-webkit-text-stroke:0.25px #1c1c1c;">1<i style="display:inline-block;width:1.7px"></i>239</div>
<div class="t" style="left:354.20px;top:456.03px;font-size:12.6px;font-weight:700;color:#1c1c1c;transform-origin:18.00px 50%;transform:scaleX(0.9250);-webkit-text-stroke:0.25px #1c1c1c;">1,0</div>
<div class="t" style="left:406.50px;top:456.03px;font-size:12.6px;font-weight:700;color:#1c1c1c;transform-origin:15.00px 50%;transform:scaleX(0.9250);-webkit-text-stroke:0.25px #1c1c1c;">1<i style="display:inline-block;width:1.7px"></i>195</div>
<div class="t" style="left:471.50px;top:456.03px;font-size:12.6px;font-weight:700;color:#1c1c1c;transform-origin:18.00px 50%;transform:scaleX(0.9250);-webkit-text-stroke:0.25px #1c1c1c;">1,2</div>
<div class="t" style="left:519.80px;top:456.03px;font-size:12.6px;font-weight:700;color:#1c1c1c;transform-origin:15.00px 50%;transform:scaleX(0.9250);-webkit-text-stroke:0.25px #1c1c1c;">1<i style="display:inline-block;width:1.7px"></i>231</div>
<div class="t" style="left:589.00px;top:456.03px;font-size:12.6px;font-weight:700;color:#1c1c1c;transform-origin:18.00px 50%;transform:scaleX(0.9250);-webkit-text-stroke:0.25px #1c1c1c;">0,1</div>
<div class="t" style="left:20.20px;top:477.04px;font-size:12px;font-weight:700;color:#1c1c1c;transform-origin:0.00px 50%;transform:scaleX(0.8633);-webkit-text-stroke:0.25px #1c1c1c;">Femmes</div>
<div class="t" style="left:223.50px;top:476.93px;font-size:12.6px;font-weight:700;color:#1c1c1c;transform-origin:25.00px 50%;transform:scaleX(0.9250);-webkit-text-stroke:0.25px #1c1c1c;">76,9</div>
<div class="t" style="left:283.00px;top:476.93px;font-size:12.6px;font-weight:700;color:#1c1c1c;transform-origin:15.00px 50%;transform:scaleX(0.9250);-webkit-text-stroke:0.25px #1c1c1c;">2<i style="display:inline-block;width:1.7px"></i>171</div>
<div class="t" style="left:347.20px;top:476.93px;font-size:12.6px;font-weight:700;color:#1c1c1c;transform-origin:25.00px 50%;transform:scaleX(0.9250);-webkit-text-stroke:0.25px #1c1c1c;">80,8</div>
<div class="t" style="left:406.50px;top:476.93px;font-size:12.6px;font-weight:700;color:#1c1c1c;transform-origin:15.00px 50%;transform:scaleX(0.9250);-webkit-text-stroke:0.25px #1c1c1c;">1<i style="display:inline-block;width:1.7px"></i>977</div>
<div class="t" style="left:464.50px;top:476.93px;font-size:12.6px;font-weight:700;color:#1c1c1c;transform-origin:25.00px 50%;transform:scaleX(0.9250);-webkit-text-stroke:0.25px #1c1c1c;">77,8</div>
<div class="t" style="left:519.80px;top:476.93px;font-size:12.6px;font-weight:700;color:#1c1c1c;transform-origin:15.00px 50%;transform:scaleX(0.9250);-webkit-text-stroke:0.25px #1c1c1c;">2<i style="display:inline-block;width:1.7px"></i>124</div>
<div class="t" style="left:589.00px;top:476.93px;font-size:12.6px;font-weight:700;color:#1c1c1c;transform-origin:18.00px 50%;transform:scaleX(0.9250);-webkit-text-stroke:0.25px #1c1c1c;">0,0</div>
<div class="t" style="left:20.20px;top:499.64px;font-size:12px;font-weight:700;color:#1c1c1c;transform-origin:0.00px 50%;transform:scaleX(0.8745);-webkit-text-stroke:0.25px #1c1c1c;">Hommes</div>
<div class="t" style="left:223.50px;top:499.03px;font-size:12.6px;font-weight:700;color:#1c1c1c;transform-origin:25.00px 50%;transform:scaleX(0.9250);-webkit-text-stroke:0.25px #1c1c1c;">23,1</div>
<div class="t" style="left:283.00px;top:499.03px;font-size:12.6px;font-weight:700;color:#1c1c1c;transform-origin:15.00px 50%;transform:scaleX(0.9250);-webkit-text-stroke:0.25px #1c1c1c;">2<i style="display:inline-block;width:1.7px"></i>751</div>
<div class="t" style="left:347.20px;top:499.03px;font-size:12.6px;font-weight:700;color:#1c1c1c;transform-origin:25.00px 50%;transform:scaleX(0.9250);-webkit-text-stroke:0.25px #1c1c1c;">19,2</div>
<div class="t" style="left:406.50px;top:499.03px;font-size:12.6px;font-weight:700;color:#1c1c1c;transform-origin:15.00px 50%;transform:scaleX(0.9250);-webkit-text-stroke:0.25px #1c1c1c;">2<i style="display:inline-block;width:1.7px"></i>607</div>
<div class="t" style="left:464.50px;top:499.03px;font-size:12.6px;font-weight:700;color:#1c1c1c;transform-origin:25.00px 50%;transform:scaleX(0.9250);-webkit-text-stroke:0.25px #1c1c1c;">22,2</div>
<div class="t" style="left:519.80px;top:499.03px;font-size:12.6px;font-weight:700;color:#1c1c1c;transform-origin:15.00px 50%;transform:scaleX(0.9250);-webkit-text-stroke:0.25px #1c1c1c;">2<i style="display:inline-block;width:1.7px"></i>723</div>
<div class="t" style="left:589.00px;top:499.03px;font-size:12.6px;font-weight:700;color:#1c1c1c;transform-origin:18.00px 50%;transform:scaleX(0.9250);-webkit-text-stroke:0.25px #1c1c1c;">0,0</div>
<div class="t" style="left:20.20px;top:521.64px;font-size:12px;font-weight:700;color:#1c1c1c;transform-origin:0.00px 50%;transform:scaleX(0.8632);-webkit-text-stroke:0.25px #1c1c1c;">Ensemble</div>
<div class="t" style="left:216.50px;top:521.23px;font-size:12.6px;font-weight:700;color:#1c1c1c;transform-origin:32.00px 50%;transform:scaleX(0.9250);-webkit-text-stroke:0.25px #1c1c1c;">100,0</div>
<div class="t" style="left:283.00px;top:521.23px;font-size:12.6px;font-weight:700;color:#1c1c1c;transform-origin:15.00px 50%;transform:scaleX(0.9250);-webkit-text-stroke:0.25px #1c1c1c;">2<i style="display:inline-block;width:1.7px"></i>305</div>
<div class="t" style="left:340.20px;top:521.23px;font-size:12.6px;font-weight:700;color:#1c1c1c;transform-origin:32.00px 50%;transform:scaleX(0.9250);-webkit-text-stroke:0.25px #1c1c1c;">100,0</div>
<div class="t" style="left:406.50px;top:521.23px;font-size:12.6px;font-weight:700;color:#1c1c1c;transform-origin:15.00px 50%;transform:scaleX(0.9250);-webkit-text-stroke:0.25px #1c1c1c;">2<i style="display:inline-block;width:1.7px"></i>098</div>
<div class="t" style="left:457.50px;top:521.23px;font-size:12.6px;font-weight:700;color:#1c1c1c;transform-origin:32.00px 50%;transform:scaleX(0.9250);-webkit-text-stroke:0.25px #1c1c1c;">100,0</div>
<div class="t" style="left:519.80px;top:521.23px;font-size:12.6px;font-weight:700;color:#1c1c1c;transform-origin:15.00px 50%;transform:scaleX(0.9250);-webkit-text-stroke:0.25px #1c1c1c;">2<i style="display:inline-block;width:1.7px"></i>257</div>
<div class="t" style="left:589.00px;top:521.23px;font-size:12.6px;font-weight:700;color:#1c1c1c;transform-origin:18.00px 50%;transform:scaleX(0.9250);-webkit-text-stroke:0.25px #1c1c1c;">0,9</div>
<div class="t" style="left:20.20px;top:542.84px;font-size:12px;font-weight:700;color:#1c1c1c;transform-origin:0.00px 50%;transform:scaleX(0.8773);-webkit-text-stroke:0.25px #1c1c1c;">Ensemble (hors personnel</div>
<div class="t" style="left:20.20px;top:557.84px;font-size:12px;font-weight:700;color:#1c1c1c;transform-origin:0.00px 50%;transform:scaleX(0.8918);-webkit-text-stroke:0.25px #1c1c1c;">médical)</div>
<div class="t" style="left:223.50px;top:550.23px;font-size:12.6px;font-weight:700;color:#1c1c1c;transform-origin:25.00px 50%;transform:scaleX(0.9250);-webkit-text-stroke:0.25px #1c1c1c;">92,2</div>
<div class="t" style="left:283.00px;top:550.23px;font-size:12.6px;font-weight:700;color:#1c1c1c;transform-origin:15.00px 50%;transform:scaleX(0.9250);-webkit-text-stroke:0.25px #1c1c1c;">2<i style="display:inline-block;width:1.7px"></i>039</div>
<div class="t" style="left:347.20px;top:550.23px;font-size:12.6px;font-weight:700;color:#1c1c1c;transform-origin:25.00px 50%;transform:scaleX(0.9250);-webkit-text-stroke:0.25px #1c1c1c;">95,3</div>
<div class="t" style="left:406.50px;top:550.23px;font-size:12.6px;font-weight:700;color:#1c1c1c;transform-origin:15.00px 50%;transform:scaleX(0.9250);-webkit-text-stroke:0.25px #1c1c1c;">1<i style="display:inline-block;width:1.7px"></i>909</div>
<div class="t" style="left:464.50px;top:550.23px;font-size:12.6px;font-weight:700;color:#1c1c1c;transform-origin:25.00px 50%;transform:scaleX(0.9250);-webkit-text-stroke:0.25px #1c1c1c;">92,9</div>
<div class="t" style="left:519.80px;top:550.23px;font-size:12.6px;font-weight:700;color:#1c1c1c;transform-origin:15.00px 50%;transform:scaleX(0.9250);-webkit-text-stroke:0.25px #1c1c1c;">2<i style="display:inline-block;width:1.7px"></i>009</div>
<div class="t" style="left:589.00px;top:550.23px;font-size:12.6px;font-weight:700;color:#1c1c1c;transform-origin:18.00px 50%;transform:scaleX(0.9250);-webkit-text-stroke:0.25px #1c1c1c;">0,0</div>
<div class="t" style="left:20.20px;top:579.84px;font-size:12px;font-weight:700;color:#1c1c1c;transform-origin:0.00px 50%;transform:scaleX(0.8604);-webkit-text-stroke:0.25px #1c1c1c;">Ensemble (hors contrats aidés )</div>
<div class="t" style="left:223.50px;top:579.63px;font-size:12.6px;font-weight:700;color:#1c1c1c;transform-origin:25.00px 50%;transform:scaleX(0.9250);-webkit-text-stroke:0.25px #1c1c1c;">98,8</div>
<div class="t" style="left:283.00px;top:579.63px;font-size:12.6px;font-weight:700;color:#1c1c1c;transform-origin:15.00px 50%;transform:scaleX(0.9250);-webkit-text-stroke:0.25px #1c1c1c;">2<i style="display:inline-block;width:1.7px"></i>318</div>
<div class="t" style="left:347.20px;top:579.63px;font-size:12.6px;font-weight:700;color:#1c1c1c;transform-origin:25.00px 50%;transform:scaleX(0.9250);-webkit-text-stroke:0.25px #1c1c1c;">99,0</div>
<div class="t" style="left:406.50px;top:579.63px;font-size:12.6px;font-weight:700;color:#1c1c1c;transform-origin:15.00px 50%;transform:scaleX(0.9250);-webkit-text-stroke:0.25px #1c1c1c;">2<i style="display:inline-block;width:1.7px"></i>107</div>
<div class="t" style="left:464.50px;top:579.63px;font-size:12.6px;font-weight:700;color:#1c1c1c;transform-origin:25.00px 50%;transform:scaleX(0.9250);-webkit-text-stroke:0.25px #1c1c1c;">98,8</div>
<div class="t" style="left:519.80px;top:579.63px;font-size:12.6px;font-weight:700;color:#1c1c1c;transform-origin:15.00px 50%;transform:scaleX(0.9250);-webkit-text-stroke:0.25px #1c1c1c;">2<i style="display:inline-block;width:1.7px"></i>270</div>
<div class="t" style="left:589.00px;top:579.63px;font-size:12.6px;font-weight:700;color:#1c1c1c;transform-origin:18.00px 50%;transform:scaleX(0.9250);-webkit-text-stroke:0.25px #1c1c1c;">0,0</div>
</body></html>
